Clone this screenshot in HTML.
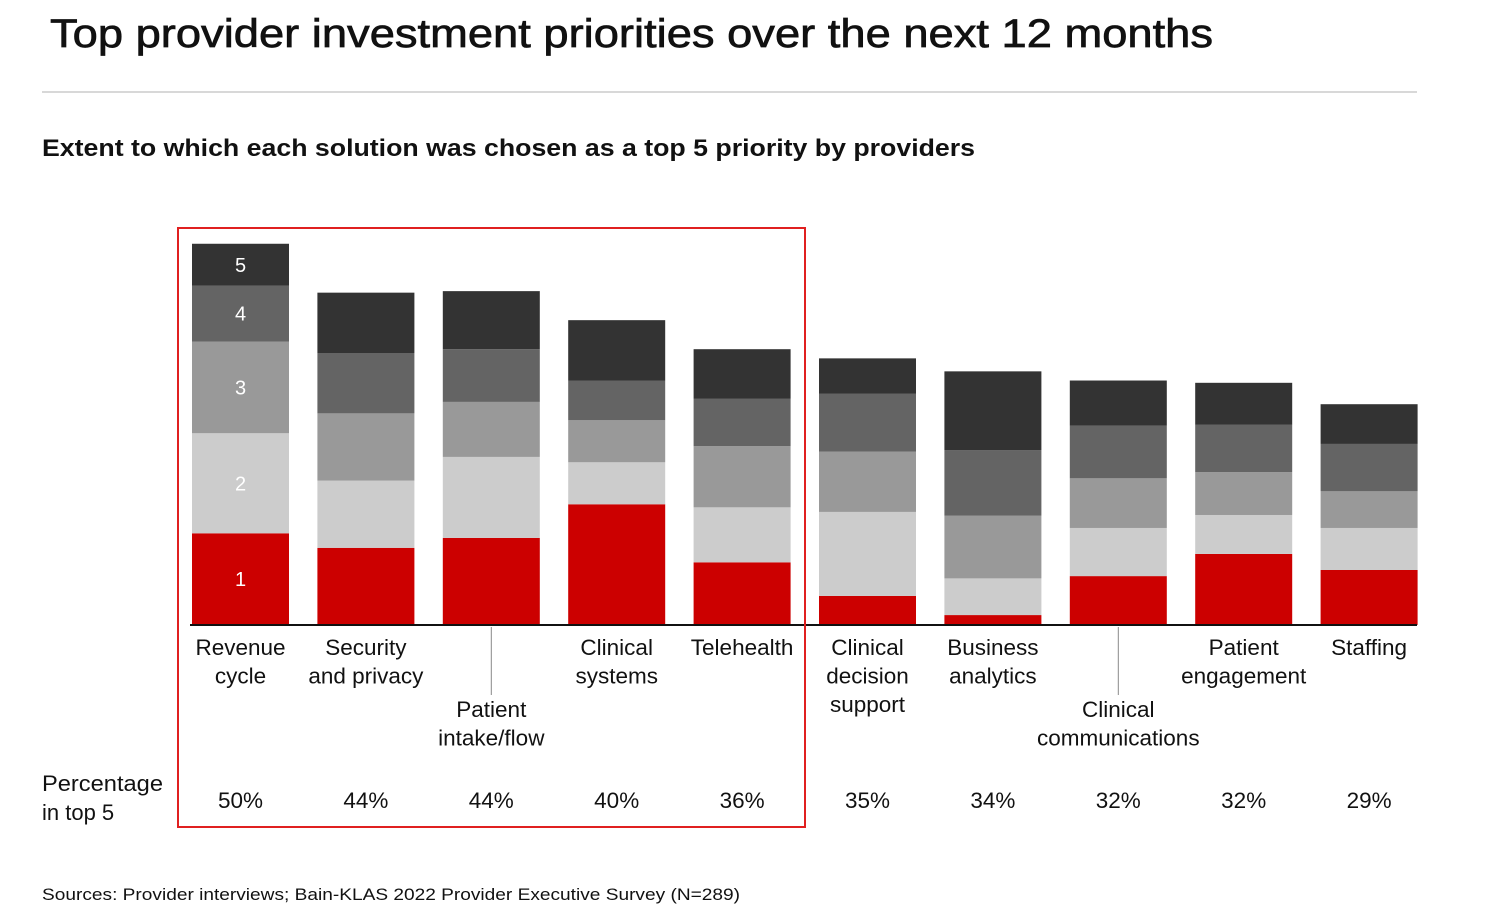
<!DOCTYPE html>
<html><head><meta charset="utf-8">
<style>
body{margin:0;background:#fff;font-family:"Liberation Sans",sans-serif;}
svg{display:block}
</style></head><body>
<svg width="1492" height="918" xmlns="http://www.w3.org/2000/svg">
<text x="50" y="47" font-size="40" fill="#111" stroke="#111" stroke-width="0.7" textLength="1163" lengthAdjust="spacingAndGlyphs">Top provider investment priorities over the next 12 months</text>
<line x1="42" y1="92" x2="1417" y2="92" stroke="#d8d8d8" stroke-width="2"/>
<text x="42" y="156" font-size="24" font-weight="bold" fill="#111" textLength="933" lengthAdjust="spacingAndGlyphs">Extent to which each solution was chosen as a top 5 priority by providers</text>
<g id="bars"></g>
<line x1="190" y1="625" x2="1417" y2="625" stroke="#111" stroke-width="2"/>
<rect x="178" y="228" width="627" height="599" fill="none" stroke="#e02020" stroke-width="2"/>
<g id="labels" font-size="22.5" fill="#111" text-anchor="middle"></g>
<text x="42" y="791" font-size="22" fill="#111" textLength="121" lengthAdjust="spacingAndGlyphs">Percentage</text>
<text x="42" y="820" font-size="22" fill="#111">in top 5</text>
<text x="42" y="900" font-size="17" fill="#111" textLength="698" lengthAdjust="spacingAndGlyphs">Sources: Provider interviews; Bain-KLAS 2022 Provider Executive Survey (N=289)</text>
</svg>
<script>
const categories=[["Revenue","cycle"],["Security","and privacy"],["Patient","intake/flow"],["Clinical","systems"],["Telehealth"],["Clinical","decision","support"],["Business","analytics"],["Clinical","communications"],["Patient","engagement"],["Staffing"]];
const rank1=[12.0,10.1,11.4,15.8,8.2,3.8,1.3,6.4,9.3,7.2];
const rank2=[13.1,8.8,10.6,5.5,7.2,11.0,4.8,6.3,5.1,5.5];
const rank3=[12.0,8.8,7.2,5.5,8.0,7.9,8.2,6.5,5.6,4.8];
const rank4=[7.3,7.9,6.9,5.2,6.2,7.6,8.6,6.9,6.2,6.2];
const rank5=[5.5,7.9,7.6,7.9,6.5,4.6,10.3,5.9,5.5,5.2];
const totals=["50%","44%","44%","40%","36%","35%","34%","32%","32%","29%"];
const lowered=[false,false,true,false,false,false,false,true,false,false];
const NS="http://www.w3.org/2000/svg";
const base=625,pxPer=7.64;
const y=v=>base-v*pxPer;
const xPos=i=>192+i*125.4, bw=97;
const series=[rank1,rank2,rank3,rank4,rank5];
const colors=["#cc0000","#cccccc","#999999","#646464","#333333"];
const bars=document.getElementById("bars"),labels=document.getElementById("labels");
categories.forEach((c,i)=>{
  let cum=0;
  series.forEach((s,k)=>{
    const r=document.createElementNS(NS,"rect");
    r.setAttribute("x",xPos(i));r.setAttribute("width",bw);
    r.setAttribute("y",y(cum+s[i]));r.setAttribute("height",s[i]*pxPer);
    r.setAttribute("fill",colors[k]);
    
    
    bars.appendChild(r);
    if(i===0){
      const t=document.createElementNS(NS,"text");
      t.setAttribute("x",xPos(i)+bw/2);t.setAttribute("y",y(cum+s[i]/2)+7);
      t.setAttribute("text-anchor","middle");t.setAttribute("font-size","20");t.setAttribute("fill","#fff");
      t.textContent=String(k+1);
      
      
      bars.appendChild(t);
    }
    cum+=s[i];
  });
  const cx=xPos(i)+bw/2;
  const y0=lowered[i]?717:655;
  if(lowered[i]){
    const l=document.createElementNS(NS,"line");
    l.setAttribute("x1",cx);l.setAttribute("x2",cx);l.setAttribute("y1",627);l.setAttribute("y2",695);
    l.setAttribute("stroke","#888");l.setAttribute("stroke-width","1");
    
    
    labels.appendChild(l);
  }
  c.forEach((line,j)=>{
    const t=document.createElementNS(NS,"text");
    t.setAttribute("x",cx);t.setAttribute("y",y0+j*28.5);
    t.textContent=line;
    
    
    labels.appendChild(t);
  });
  const p=document.createElementNS(NS,"text");
  p.setAttribute("x",cx);p.setAttribute("y",808);p.textContent=totals[i];
  
  
  labels.appendChild(p);
});
</script>
</body></html>
